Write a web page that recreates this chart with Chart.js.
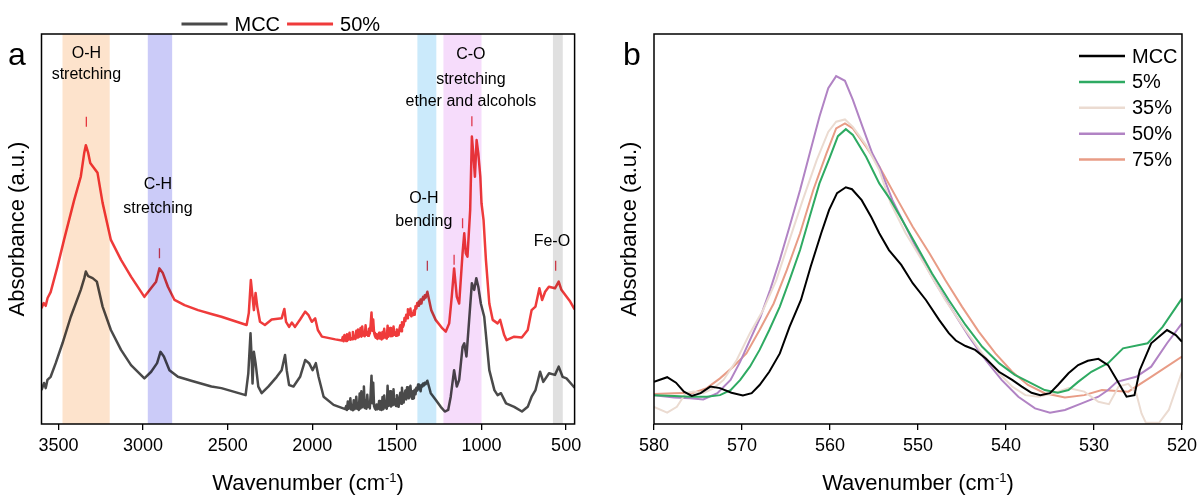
<!DOCTYPE html>
<html>
<head>
<meta charset="utf-8">
<script src="https://cdn.jsdelivr.net/npm/chart.js@4.4.0/dist/chart.umd.min.js"></script>
<style>
  body { margin: 0; background: #fff; }
  #wrap { display: flex; width: 1202px; height: 495px; }
  #boxA { position: relative; width: 600px; height: 495px; }
  #boxB { position: relative; width: 602px; height: 495px; }
</style>
</head>
<body>
<div id="wrap">
  <div id="boxA"><canvas id="chartA"></canvas></div>
  <div id="boxB"><canvas id="chartB"></canvas></div>
</div>
<script>
// ---------- panel a : full FTIR spectra ----------
const mccWn = [3600,3585,3575,3565,3546,3516,3476,3427,3368,3347,3338,3324,3298,3273,3239,3190,3130,3071,2992,2952,2917,2897,2877,2844,2794,2715,2596,2537,2394,2378,2365,2357,2353,2345,2335,2319,2299,2260,2210,2181,2161,2151,2137,2111,2072,2042,2019,1998,1979,1963,1933,1874,
    1805,1800,1795,1790,1785,1780,1775,1770,1765,1760,1755,1750,1745,1740,1735,1730,1725,1720,1715,1710,1705,1700,1695,1690,1685,1680,1675,1670,1665,1660,1655,1650,1645,1640,1635,1630,1625,1620,1615,1610,1605,1600,1595,1590,1585,1580,1575,1570,1565,1560,1555,1550,1545,1540,1535,1530,1525,1520,1515,1510,1505,1500,1495,1490,1485,1480,1475,1470,1465,1460,1455,1450,1445,1440,1435,1430,1425,1420,1415,1410,1405,1400,1395,1390,1385,1380,1375,1370,1365,1360,1355,1350,1345,1340,1335,1330,1325,1320,
    1300,1271,1241,1217,1197,1182,1162,1146,1132,1112,1102,1089,1073,1057,1043,1031,1019,1004,984,954,924,905,885,855,807,761,727,704,681,654,635,601,566,544,521,498,464,450];
const mccAbs = [8.7,10.5,9.2,11.3,12.1,15.6,20.7,27.5,34.4,37.4,39.1,37.9,37.4,36.5,30.1,24.1,19.0,15.1,11.7,13.4,15.6,18.5,17.3,13.8,12.1,11.1,9.6,9.2,7.4,13.0,23.3,15.6,10.4,18.5,15.6,9.6,7.9,9.6,12.1,13.8,17.7,13.8,10.0,9.6,12.1,16.4,15.6,13.8,15.6,12.1,7.0,4.9,
    3.8,4.6,3.6,5.8,3.9,4.4,6.6,3.7,4.9,3.5,6.1,3.8,4.2,7.0,3.9,5.2,3.6,7.8,4.0,8.4,4.3,5.9,9.6,4.1,6.0,3.9,7.5,4.4,5.6,4.0,7.9,12.4,5.3,10.6,4.6,4.0,3.7,5.0,3.8,4.1,5.9,3.7,4.5,3.6,6.9,3.8,7.3,4.2,5.4,3.9,9.8,4.6,6.2,8.4,4.5,5.6,4.8,8.9,5.0,6.3,4.6,7.4,5.1,4.4,6.6,8.0,5.2,9.3,6.0,5.5,7.6,8.6,6.3,9.4,7.2,6.6,8.8,9.8,7.0,6.5,8.4,6.6,8.8,7.6,9.3,8.6,10.1,8.9,9.8,8.4,10.0,9.6,10.4,9.9,10.6,10.2,10.7,11.1,
    7.9,6.2,4.4,3.2,3.6,7.0,13.8,9.6,11.3,19.8,20.7,17.3,26.7,36.1,34.4,37.4,35.2,30.9,27.5,13.8,8.7,7.4,7.9,5.3,4.4,3.2,4.4,7.0,8.7,13.4,10.8,13.0,12.6,14.7,12.1,11.7,10.0,9.3];

const p50Wn = [3600,3587,3575,3564,3546,3506,3467,3407,3368,3348,3338,3324,3312,3289,3269,3239,3190,3130,3071,2992,2952,2923,2903,2883,2853,2814,2755,2675,2596,2537,2388,2375,2363,2353,2345,2335,2325,2309,2280,2240,2181,2165,2155,2137,2121,2102,2072,2042,2022,2003,1983,1967,1943,1864,
    1825,1820,1815,1810,1805,1800,1795,1790,1785,1780,1775,1770,1765,1760,1755,1750,1745,1740,1735,1730,1725,1720,1715,1710,1705,1700,1695,1690,1685,1680,1675,1670,1665,1660,1655,1650,1645,1640,1635,1630,1625,1620,1615,1610,1605,1600,1595,1590,1585,1580,1575,1570,1565,1560,1555,1550,1545,1540,1535,1530,1525,1520,1515,1510,1505,1500,1495,1490,1485,1480,1475,1470,1465,1460,1455,1450,1445,1440,1435,1430,1425,1420,1415,1410,1405,1400,1395,1390,1385,1380,1375,1370,1365,1360,1355,1350,1345,1340,1335,1330,1325,1320,
    1297,1271,1231,1211,1191,1176,1162,1146,1132,1112,1102,1093,1083,1067,1057,1047,1039,1029,1019,1007,1000,988,974,954,934,905,890,866,852,807,762,727,704,681,658,642,624,602,566,544,528,505,476,450];
const p50Abs = [29.7,31.0,30.3,32.3,33.8,40.3,47.2,57.4,63.4,69.4,71.5,69.5,66.9,65.6,64.4,56.7,47.2,42.1,37.8,32.6,34.9,36.5,39.9,38.7,35.2,31.8,30.5,29.2,28.2,27.5,25.4,28.5,36.9,32.6,29.2,33.6,30.1,26.2,25.4,26.8,27.1,29.5,26.2,24.9,26.0,24.9,26.8,28.8,27.9,26.2,27.1,24.1,22.4,21.7,
    21.4,22.3,21.2,22.8,21.6,21.3,23.0,21.5,22.1,23.4,21.6,22.0,21.7,23.6,21.9,22.4,21.8,23.9,22.2,24.2,22.3,22.8,24.6,22.4,25.0,22.7,23.5,22.5,25.3,22.9,23.6,22.6,24.4,23.2,25.6,28.6,23.9,26.8,23.4,22.6,22.1,23.0,21.8,22.2,23.4,21.9,22.4,21.7,23.6,22.0,24.4,22.2,22.8,21.9,25.2,22.4,23.6,24.6,22.5,23.3,22.6,25.0,22.9,23.5,22.6,24.2,23.1,22.8,24.4,25.3,23.8,26.1,24.9,25.4,27.2,26.4,28.0,27.1,29.4,27.9,28.6,29.6,27.6,28.4,27.9,29.1,28.0,30.2,29.6,31.0,30.3,31.4,30.7,31.9,30.9,32.0,32.6,31.9,33.0,32.4,33.2,33.9,
    29.2,26.7,24.5,23.7,25.8,32.6,39.9,32.6,30.9,43.8,48.9,43.8,42.9,54.9,73.7,68.5,63.4,72.8,69.4,63.4,56.6,52.3,42.1,30.9,26.7,25.8,26.7,22.8,21.5,22.4,22.2,24.1,29.2,30.1,34.8,31.8,33.9,35.2,34.8,36.5,34.4,33.1,31.4,29.4];

// peak markers (50% curve)
const markWn = [3335, 2903, 1320, 1162, 1112, 1057, 562];
const markAbs = [77.5, 43.8, 40.6, 42.1, 51.5, 77.6, 40.6];

// assignment bands
const bandFrom = [3476, 2972, 1379, 1225, 578];
const bandTo = [3197, 2828, 1267, 1000, 520];

const xTicksA = [3500, 3000, 2500, 2000, 1500, 1000, 500];

// ---------- panel b : Fe-O region ----------
const bMccWn = [580,578.5,577.5,576.6,575.7,574.7,573.6,572.5,571.2,569.9,568.9,568.0,566.9,565.7,564.6,563.3,562.2,561.0,560.1,559.2,558.2,557.5,556.4,555.3,554.4,553.3,551.9,550.6,549.1,547.6,546.5,545.7,544.6,543.5,542.3,540.8,539.3,538.2,537.1,536.1,535.0,534.1,532.9,531.8,530.7,529.5,528.4,527.4,526.3,525.4,524.8,523.5,521.7,520.7,520];
const bMccAbs = [10.8,12.0,10.6,8.3,7.2,7.9,9.6,9.2,8.0,7.3,7.9,10.0,13.4,18.1,24.9,31.8,40.3,48.9,54.9,59.2,60.7,60.2,57.4,53.0,48.9,44.6,40.8,36.1,31.8,26.7,23.3,21.4,20.0,19.0,16.8,13.4,11.3,9.6,8.0,7.4,7.9,10.0,13.0,15.1,16.2,16.7,15.1,11.3,7.0,7.4,13.8,20.7,24.1,22.8,21.1];

const b5Wn = [580,577.7,575.9,574.0,572.5,571.3,570.2,569.1,568.0,566.9,565.7,564.6,563.4,562.3,561.2,560.0,559.1,558.2,557.4,555.9,554.4,553.1,551.8,550.3,548.4,546.5,544.6,542.7,540.8,539.0,537.1,535.6,534.1,532.9,531.8,530.3,528.4,526.7,523.9,522.2,520];
const b5Abs = [7.4,7.2,7.0,7.0,7.4,8.7,11.3,14.7,19.0,24.1,30.1,36.9,44.6,53.2,61.7,68.5,73.8,75.6,74.1,68.5,61.7,57.4,52.3,46.3,38.6,31.8,25.4,19.8,15.6,12.6,10.4,8.7,8.0,8.7,10.8,13.4,15.6,19.4,20.7,24.9,32.2];

const b35Wn = [580,578.5,577.4,576.4,575.5,574.4,573.2,572.1,570.6,569.1,567.6,566.1,564.6,563.1,561.5,560.2,559.3,558.3,557.4,555.9,554.4,553.1,551.4,549.1,546.9,544.6,542.7,540.8,539.3,537.8,536.3,534.4,532.9,531.1,529.5,528.3,527.2,526.1,525.2,524.6,524.1,522.6,521.5,520];
const b35Abs = [4.4,2.9,4.4,7.9,8.3,7.9,9.2,11.3,16.4,23.3,29.2,36.9,47.2,57.4,67.7,74.9,77.5,78.1,76.2,71.5,65.1,56.6,48.9,40.3,31.8,24.1,18.1,13.0,9.6,7.4,7.0,8.0,9.2,8.3,5.7,5.1,9.6,10.3,7.9,2.7,0.3,0.3,3.6,13.4];

const b50Wn = [580,577.7,575.9,574.4,572.8,571.3,570.2,569.1,567.9,566.8,565.7,564.6,563.4,562.3,561.2,560.2,559.3,558.3,557.4,556.3,555.2,554.4,552.9,551.4,549.9,548.0,546.1,544.2,542.3,540.5,538.6,536.7,535.0,533.3,531.4,529.5,528.4,527.4,525.2,523.5,521.7,520];
const b50Abs = [7.4,6.8,6.6,6.3,7.9,11.3,16.0,21.5,27.5,34.4,42.1,50.6,60.0,69.4,78.8,86.1,89.2,88.0,83.1,76.2,69.4,66.0,57.4,50.6,43.8,36.1,29.2,22.4,16.4,11.3,7.0,4.0,2.9,3.6,5.3,7.0,8.7,10.8,12.1,14.7,20.7,25.8];

const b75Wn = [580,577.7,575.5,574.0,572.5,571.0,569.5,568.0,566.4,564.9,563.4,561.9,560.4,559.3,558.3,557.4,555.9,554.4,552.3,550.6,548.7,546.9,545.0,543.1,541.2,539.3,537.5,535.6,533.3,531.1,529.1,526.1,523.5,520];
const b75Abs = [7.7,7.9,8.0,9.2,11.7,14.7,18.1,24.1,30.9,39.5,48.9,60.0,69.4,75.8,77.1,75.8,71.1,66.0,57.4,50.6,43.8,36.9,30.1,23.7,18.1,13.4,10.0,7.9,6.8,7.4,8.7,8.3,12.1,17.3];

const xTicksB = [580, 570, 560, 550, 540, 530, 520];

// ---------- styles ----------
const FONT = "'Liberation Sans', Arial, sans-serif";
Chart.defaults.color = '#000';
Chart.defaults.font.family = FONT;

const bandColors = ['#fde3cc', '#cbcbf8', '#cbeafb', '#f6dcfb', '#e0e0e0'];

function pts(xs, ys) {
    return xs.map((x, i) => ({ x: x, y: ys[i] }));
}

// outer box round the plot area
const framePlugin = {
    id: 'frame',
    afterDraw(chart) {
        const a = chart.chartArea, ctx = chart.ctx;
        ctx.save();
        ctx.strokeStyle = '#000';
        ctx.lineWidth = 1.5;
        ctx.strokeRect(a.left, a.top, a.right - a.left, a.bottom - a.top);
        ctx.restore();
    }
};

// x title with superscript, panel letter
function drawExtras(chart, letter, letterX) {
    const ctx = chart.ctx, a = chart.chartArea;
    const main = '22px ' + FONT, sup = '13px ' + FONT;
    ctx.save();
    ctx.fillStyle = '#000';
    ctx.textAlign = 'left';
    ctx.textBaseline = 'alphabetic';
    ctx.font = main;
    const w1 = ctx.measureText('Wavenumber (cm').width;
    const w3 = ctx.measureText(')').width;
    ctx.font = sup;
    const w2 = ctx.measureText('-1').width;
    let x = (a.left + a.right) / 2 - (w1 + w2 + w3) / 2;
    const y = 490;
    ctx.font = main;
    ctx.fillText('Wavenumber (cm', x, y);
    x += w1;
    ctx.font = sup;
    ctx.fillText('-1', x, y - 8);
    x += w2;
    ctx.font = main;
    ctx.fillText(')', x, y);

    ctx.font = '32px ' + FONT;
    ctx.textAlign = 'center';
    ctx.fillText(letter, letterX, 65);
    ctx.restore();
}

function axisCommon(ticks, xMin, xMax, leftWidth, titlePad) {
    return {
        x: {
            type: 'linear',
            reverse: true,
            min: xMin,
            max: xMax,
            afterBuildTicks: s => { s.ticks = ticks.map(v => ({ value: v })); },
            afterFit: s => { s.height = 71; },
            border: { display: false },
            grid: { drawOnChartArea: false, drawTicks: true, tickLength: 6, color: '#000', lineWidth: 1.3 },
            ticks: { font: { size: 18 }, padding: 5, maxRotation: 0, callback: v => String(v) }
        },
        y: {
            min: 0,
            max: 100,
            afterFit: s => { s.width = leftWidth; },
            border: { display: false },
            grid: { display: false },
            ticks: { display: false },
            title: { display: true, text: 'Absorbance (a.u.)', font: { size: 22 }, padding: { top: titlePad, bottom: 0 } }
        }
    };
}

// ---------- panel a ----------
const annotA = [
    { wn: 3335, v: [95.1, 89.5], lines: ['O-H', 'stretching'] },
    { wn: 2912, v: [61.3, 55.3], lines: ['C-H', 'stretching'] },
    { wn: 1341, v: [57.9, 51.9], lines: ['O-H', 'bending'] },
    { wn: 1063, v: [94.6, 88.4, 82.6], lines: ['C-O', 'stretching', 'ether and alcohols'] },
    { wn: 584, v: [46.7], lines: ['Fe-O'] }
];

const bandPlugin = {
    id: 'bands',
    afterDatasetsDraw(chart) {
        const a = chart.chartArea, ctx = chart.ctx, xs = chart.scales.x;
        ctx.save();
        ctx.beginPath();
        ctx.rect(a.left, a.top, a.right - a.left, a.bottom - a.top);
        ctx.clip();
        ctx.globalCompositeOperation = 'multiply';
        for (let i = 0; i < bandFrom.length; i++) {
            const x1 = xs.getPixelForValue(bandFrom[i]);
            const x2 = xs.getPixelForValue(bandTo[i]);
            ctx.fillStyle = bandColors[i];
            ctx.fillRect(x1, a.top, x2 - x1, a.bottom - a.top);
        }
        ctx.restore();
    },
    afterDraw(chart) {
        const ctx = chart.ctx, xs = chart.scales.x, ys = chart.scales.y;
        ctx.save();
        ctx.fillStyle = '#000';
        ctx.font = '16px ' + FONT;
        ctx.textAlign = 'center';
        ctx.textBaseline = 'middle';
        annotA.forEach(n => {
            n.lines.forEach((t, i) => ctx.fillText(t, xs.getPixelForValue(n.wn), ys.getPixelForValue(n.v[i])));
        });

        // legend on top
        let x = 181.5;
        const y = 24;
        ctx.font = '20px ' + FONT;
        ctx.textAlign = 'left';
        chart.data.datasets.filter(d => d.label).forEach(d => {
            ctx.strokeStyle = d.borderColor;
            ctx.lineWidth = 3;
            ctx.beginPath();
            ctx.moveTo(x, y);
            ctx.lineTo(x + 46, y);
            ctx.stroke();
            x += 53;
            ctx.fillText(d.label, x, y + 1);
            x += ctx.measureText(d.label).width + 7;
        });
        ctx.restore();
        drawExtras(chart, 'a', 17);
    }
};

new Chart(document.getElementById('chartA'), {
    type: 'line',
    data: {
        datasets: [
            { label: 'MCC', data: pts(mccWn, mccAbs), borderColor: '#4a4a4a', borderWidth: 2.5, pointRadius: 0, borderJoinStyle: 'round' },
            { label: '50%', data: pts(p50Wn, p50Abs), borderColor: '#ef3b3b', borderWidth: 2.5, pointRadius: 0, borderJoinStyle: 'round' },
            { data: pts(markWn, markAbs), showLine: false, pointStyle: 'line', rotation: 90, pointRadius: 5, pointBorderWidth: 1.3, pointBorderColor: '#e8404f', pointBackgroundColor: '#e8404f' }
        ]
    },
    options: {
        responsive: true,
        maintainAspectRatio: false,
        animation: false,
        layout: { padding: { top: 34, right: 25.4, left: 0, bottom: 0 } },
        plugins: { legend: { display: false }, tooltip: { enabled: false } },
        scales: axisCommon(xTicksA, 450, 3600, 41.5, 5)
    },
    plugins: [bandPlugin, framePlugin]
});

// ---------- panel b ----------
const legendBPlugin = {
    id: 'legendB',
    afterDraw(chart) {
        const ctx = chart.ctx;
        ctx.save();
        ctx.font = '20px ' + FONT;
        ctx.fillStyle = '#000';
        ctx.textAlign = 'left';
        ctx.textBaseline = 'middle';
        chart.data.datasets.forEach((d, i) => {
            const y = 56 + i * 25.9;
            ctx.strokeStyle = d.borderColor;
            ctx.lineWidth = 2.5;
            ctx.beginPath();
            ctx.moveTo(479, y);
            ctx.lineTo(525, y);
            ctx.stroke();
            ctx.fillText(d.label, 532, y + 1);
        });
        ctx.restore();
        drawExtras(chart, 'b', 32);
    }
};

function lineB(label, xs, ys, color) {
    return { label: label, data: pts(xs, ys), borderColor: color, borderWidth: 2, pointRadius: 0 };
}

new Chart(document.getElementById('chartB'), {
    type: 'line',
    data: {
        datasets: [
            lineB('MCC', bMccWn, bMccAbs, '#000000'),
            lineB('5%', b5Wn, b5Abs, '#2eaa62'),
            lineB('35%', b35Wn, b35Abs, '#ebdbd1'),
            lineB('50%', b50Wn, b50Abs, '#b183c4'),
            lineB('75%', b75Wn, b75Abs, '#e89c86')
        ]
    },
    options: {
        responsive: true,
        maintainAspectRatio: false,
        animation: false,
        layout: { padding: { top: 34, right: 16.6, left: 0, bottom: 0 } },
        plugins: { legend: { display: false }, tooltip: { enabled: false } },
        scales: axisCommon(xTicksB, 520, 580, 54, 16.4)
    },
    plugins: [legendBPlugin, framePlugin]
});
</script>
</body>
</html>
